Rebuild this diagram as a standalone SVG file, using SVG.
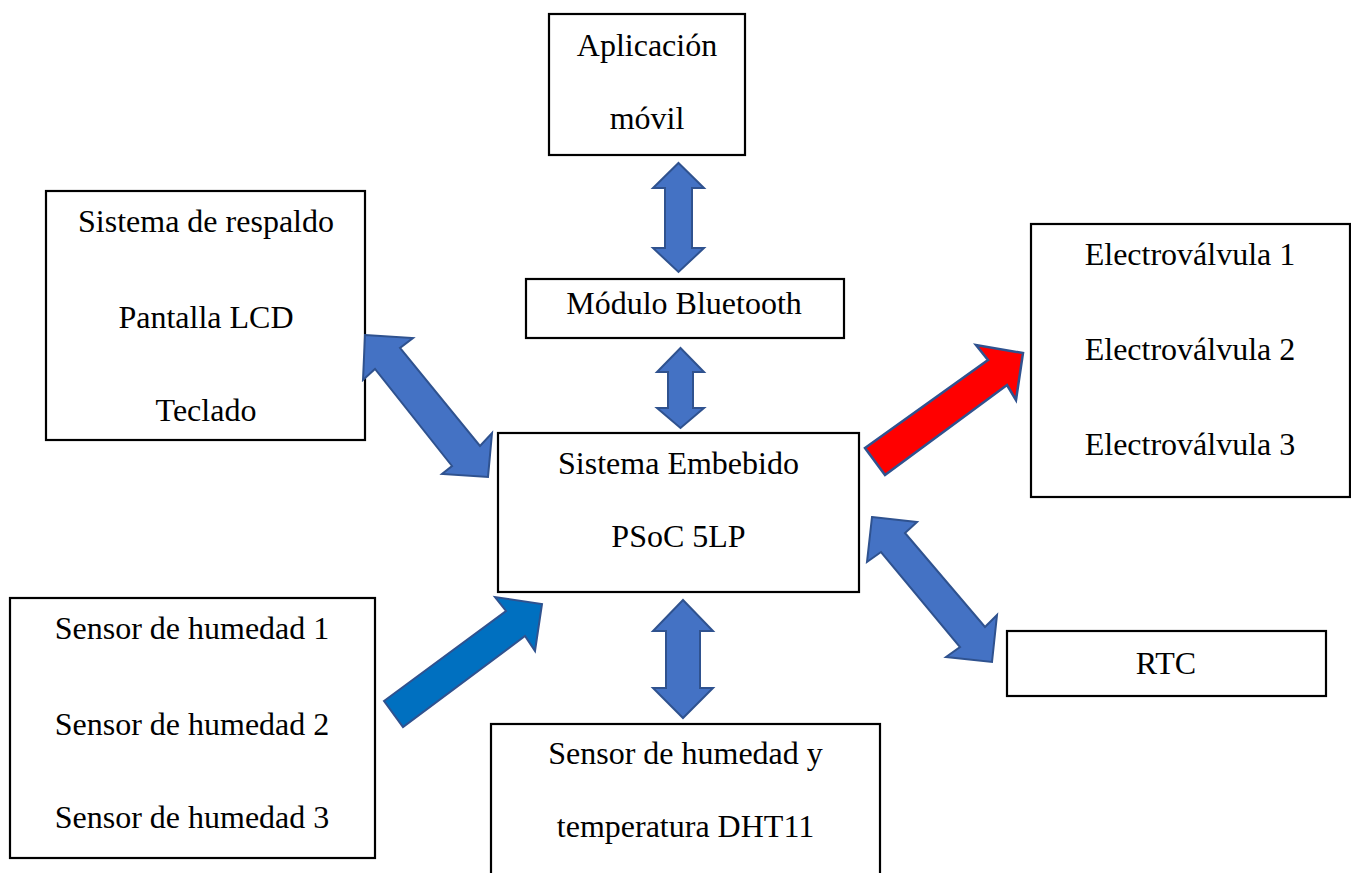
<svg xmlns="http://www.w3.org/2000/svg" width="1351" height="873" viewBox="0 0 1351 873">
<style>
.box{fill:#fff;stroke:#000;stroke-width:2.2}
.t{font-family:"Liberation Serif","Times New Roman",serif;font-size:32px;fill:#000;text-anchor:middle}
.arr{fill:#4472C4;stroke:#2F528F;stroke-width:2;stroke-linejoin:miter}
.red{fill:#FF0000;stroke:#2F528F;stroke-width:2.5}
.dark{fill:#0070C0;stroke:#2F528F;stroke-width:2}
</style>
<rect width="1351" height="873" fill="#fff"/>
<g id="app"><rect class="box" x="549" y="14" width="196" height="141"/><text class="t" x="647" y="56">Aplicación</text><text class="t" x="647" y="129">móvil</text></g>
<g id="bluetooth"><rect class="box" x="526" y="279" width="318" height="59"/><text class="t" x="684" y="314">Módulo Bluetooth</text></g>
<g id="respaldo"><rect class="box" x="46" y="191" width="319" height="249"/><text class="t" x="206" y="232">Sistema de respaldo</text><text class="t" x="206" y="328">Pantalla LCD</text><text class="t" x="206" y="421">Teclado</text></g>
<g id="electro"><rect class="box" x="1031" y="224" width="319" height="273"/><text class="t" x="1190" y="265">Electroválvula 1</text><text class="t" x="1190" y="360">Electroválvula 2</text><text class="t" x="1190" y="455">Electroválvula 3</text></g>
<g id="psoc"><rect class="box" x="498" y="433" width="361" height="159"/><text class="t" x="678.5" y="474">Sistema Embebido</text><text class="t" x="678.5" y="547">PSoC 5LP</text></g>
<g id="sensores"><rect class="box" x="10" y="598" width="365" height="260"/><text class="t" x="192" y="639">Sensor de humedad 1</text><text class="t" x="192" y="735">Sensor de humedad 2</text><text class="t" x="192" y="828">Sensor de humedad 3</text></g>
<g id="dht"><rect class="box" x="491" y="724" width="389" height="160"/><text class="t" x="685.5" y="764">Sensor de humedad y</text><text class="t" x="685.5" y="837">temperatura DHT11</text></g>
<g id="rtc"><rect class="box" x="1007" y="631" width="319" height="65"/><text class="t" x="1166" y="674">RTC</text></g>
<g id="connectors">
<polygon class="arr" points="678.5,163 704,188 692,188 692,248 704,248 678.5,272 653,248 665,248 665,188 653,188"/>
<polygon class="arr" points="680.5,348 704,372 693,372 693,408 704,408 680.5,428 657,408 668,408 668,372 657,372"/>
<polygon class="arr" points="683,600 713,631 700,631 700,688 713,688 683,718 653,688 666,688 666,631 653,631"/>
<polygon class="arr" points="365,335 413,338 400,348 480,446 492,433 488,477 442,474 452,466 375,369 363,380"/>
<polygon class="arr" points="872,517 917,522 905,533 985,627 997,615 992,662 946,657 960,647 881,552 867,562"/>
<polygon class="red" points="865,448 988,360 976,345 1023,353 1016,400 1007,385 885,475"/>
<polygon class="dark" points="384,701 506,611 495,597 542,604 535,651 525,636 403,727"/>
</g>
</svg>
